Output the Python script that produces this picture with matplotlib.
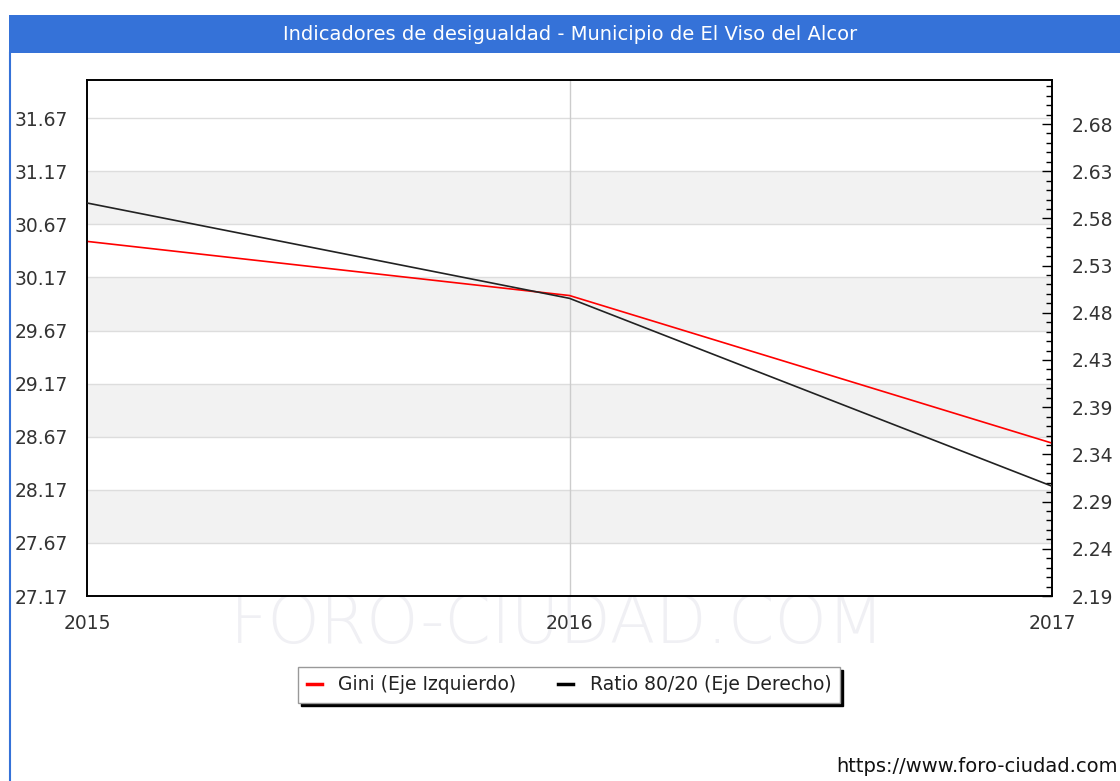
import matplotlib
matplotlib.use("Agg")
import matplotlib.pyplot as plt
from matplotlib.patches import Rectangle
from matplotlib.lines import Line2D
from matplotlib.ticker import FixedLocator, AutoMinorLocator

plt.rcParams["font.family"] = ["DejaVu Sans"]

years = [2015, 2016, 2017]
gini = [30.51, 30.00, 28.61]
ratio = [2.598, 2.499, 2.304]

left_ticks = [27.17, 27.67, 28.17, 28.67, 29.17, 29.67, 30.17, 30.67, 31.17, 31.67]
right_tick_labels = ["2.19", "2.24", "2.29", "2.34", "2.39", "2.43", "2.48", "2.53", "2.58", "2.63", "2.68"]
right_start = 2.19
right_step = 0.049

title = "Indicadores de desigualdad - Municipio de El Viso del Alcor"
legend_labels = ["Gini (Eje Izquierdo)", "Ratio 80/20 (Eje Derecho)"]

W, H = 1120, 781
fig = plt.figure(figsize=(W / 100, H / 100), dpi=100)
fig.patch.set_facecolor("white")

# title bar
fig.patches.append(Rectangle((9 / W, 1 - 53 / H), 1 - 9 / W, 38 / H, transform=fig.transFigure,
                             facecolor="#3572d8", edgecolor="none", zorder=0))
fig.text(570 / W, 1 - 34 / H, title, color="white", fontsize=14, ha="center", va="center")
# left blue border line
fig.add_artist(Line2D([9.5 / W, 9.5 / W], [0, 1 - 53 / H], transform=fig.transFigure,
                      color="#3572d8", lw=1.5))

# watermark (behind everything)
fig.text(558 / W, 1 - 624 / H, "FORO-CIUDAD.COM", fontsize=48, color="#f0f0f4",
         ha="center", va="center", zorder=-1, fontweight="light")

ax = fig.add_axes([87 / W, 1 - 596 / H, (1052 - 87) / W, (596 - 80) / H])
ymin, ymax = 27.17, 32.03
ax.set_ylim(ymin, ymax)
ax.set_xlim(2015, 2017)

# alternating bands
for i in range(len(left_ticks) - 1):
    if i % 2 == 1:
        ax.axhspan(left_ticks[i], left_ticks[i + 1], color="#f2f2f2", zorder=0, lw=0)
for t in left_ticks[1:]:
    ax.axhline(t, color="#dddddd", lw=1, zorder=0.5)
ax.axvline(2016, color="#cccccc", lw=1, zorder=0.5)

ax.set_yticks(left_ticks)
ax.set_yticklabels([f"{t:.2f}" for t in left_ticks])
ax.set_xticks(years)
ax.set_xticklabels([str(y) for y in years])
ax.tick_params(axis="y", length=0, pad=14, labelsize=13.5, labelcolor="#333333")
ax.tick_params(axis="x", length=0, pad=13, labelsize=13.5, labelcolor="#333333")
for s in ax.spines.values():
    s.set_linewidth(1.2)
    s.set_color("black")

ax.plot(years, gini, color="red", lw=1.2, zorder=3)

ax2 = ax.twinx()
r_ticks = [right_start + i * right_step for i in range(len(right_tick_labels))]
r_min = right_start
r_max = right_start + (596 - 80) / 47.2 * right_step
ax2.set_ylim(r_min, r_max)
ax2.yaxis.set_major_locator(FixedLocator(r_ticks))
ax2.set_yticklabels(right_tick_labels)
ax2.yaxis.set_minor_locator(AutoMinorLocator(5))
ax2.tick_params(axis="y", which="major", direction="in", length=7, width=1, pad=14,
                labelsize=13.5, labelcolor="#333333")
ax2.tick_params(axis="y", which="minor", direction="in", length=4, width=1)
ax2.plot(years, ratio, color="#222222", lw=1.2, zorder=3)
for s in ax2.spines.values():
    s.set_linewidth(1.2)

# legend
handles = [Line2D([], [], color="red", lw=2.5), Line2D([], [], color="black", lw=2.5)]
leg = fig.legend(handles, legend_labels, loc="center", bbox_to_anchor=(569 / W, 1 - 685 / H),
                 ncol=2, fontsize=13.5, frameon=True, fancybox=False, handlelength=0.8,
                 columnspacing=2.2, handletextpad=0.9, borderpad=0.45,
                 shadow={"color": "black", "alpha": 1})
leg.get_frame().set_edgecolor("#999999")
leg.get_frame().set_linewidth(1)
for t in leg.get_texts():
    t.set_color("#222222")

fig.text(1118 / W, 1 - 767 / H, "https://www.foro-ciudad.com", fontsize=14, color="#111111",
         ha="right", va="center")

fig.savefig("out.png", dpi=100)
